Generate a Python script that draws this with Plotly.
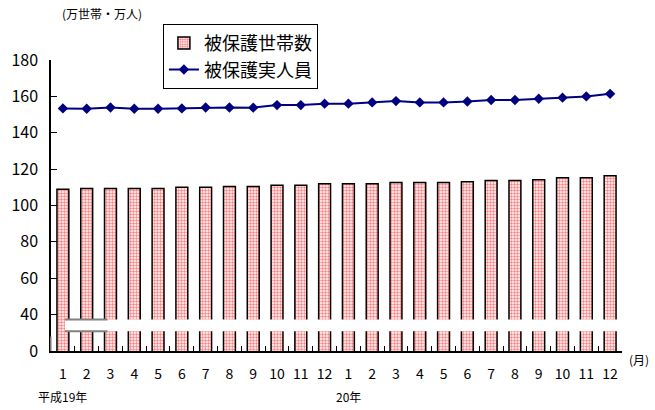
import plotly.graph_objects as go

months = ["1","2","3","4","5","6","7","8","9","10","11","12",
          "1","2","3","4","5","6","7","8","9","10","11","12"]
households = [108.9, 109.4, 109.4, 109.4, 109.4, 110.0, 110.0, 110.4, 110.4, 111.1, 111.1, 112.0,
              112.0, 112.0, 112.6, 112.6, 112.6, 113.1, 113.7, 113.7, 114.2, 115.3, 115.3, 116.4]
persons = [153.4, 153.2, 153.9, 153.2, 153.2, 153.4, 153.9, 153.9, 153.8, 155.2, 155.2, 156.0,
           156.0, 156.7, 157.4, 156.7, 156.7, 157.2, 158.0, 158.0, 158.7, 159.3, 160.0, 161.4]
y_ticks = [20, 40, 60, 80, 100, 120, 140, 160, 180]
y_tick_labels = ["0", "40", "60", "80", "100", "120", "140", "160", "180"]
year_labels = ["平成19年", "20年"]

FONT = "Noto Sans CJK JP"
x = list(range(len(months)))

fig = go.Figure()
fig.add_trace(go.Bar(
    x=x, y=households, name="被保護世帯数", width=0.5,
    marker=dict(color="white", line=dict(color="black", width=1.5),
                pattern=dict(shape=".", fgcolor="#ff0000", bgcolor="white", size=3, solidity=0.5)),
))
fig.add_trace(go.Scatter(
    x=x, y=persons, name="被保護実人員", mode="lines+markers",
    line=dict(color="#000080", width=2),
    marker=dict(symbol="diamond", size=8, color="#000080"),
))
# dummy trace for boundary tick marks
fig.add_trace(go.Scatter(x=[-0.5], y=[None], xaxis="x2", showlegend=False, hoverinfo="skip"))

fig.update_layout(
    width=655, height=410,
    margin=dict(l=51, r=33, t=60, b=59),
    plot_bgcolor="white", paper_bgcolor="white",
    font=dict(family=FONT, color="black", size=13),
    showlegend=True,
    legend=dict(x=0.196, y=1.124, xanchor="left", yanchor="top",
                bgcolor="white", bordercolor="black", borderwidth=1,
                font=dict(size=18, family=FONT), tracegroupgap=0,
                itemwidth=30),
    xaxis=dict(range=[-0.5, 23.5], tickmode="array", tickvals=x, ticktext=months,
               ticks="", showline=True, linecolor="black", linewidth=1.5,
               showgrid=False, zeroline=False, ticklabelstandoff=9,
               tickfont=dict(size=14, family=FONT)),
    xaxis2=dict(range=[-0.5, 23.5], overlaying="x", anchor="y", side="bottom",
                tickmode="array", tickvals=[i + 0.5 for i in range(24)],
                ticks="inside", ticklen=5, tickcolor="black", tickwidth=1,
                showticklabels=False, showgrid=False, zeroline=False, showline=False),
    yaxis=dict(range=[20, 180], tickmode="array", tickvals=y_ticks, ticktext=y_tick_labels,
               ticks="inside", ticklen=6, tickcolor="black", showline=True,
               linecolor="black", linewidth=1.5, showgrid=False, zeroline=False,
               tickfont=dict(size=16, family=FONT), ticklabelstandoff=8),
)

# axis break
fig.add_shape(type="rect", xref="paper", yref="y", x0=0.0245, x1=1.0, y0=30.9, y1=37.3,
              fillcolor="white", line=dict(width=0), layer="above")
for yy in (37.3, 30.9):
    fig.add_shape(type="line", xref="paper", yref="y", x0=0.0245, x1=0.099, y0=yy, y1=yy,
                  line=dict(color="#808080", width=2), layer="above")
fig.add_shape(type="line", xref="paper", yref="y", x0=0, x1=0, y0=20, y1=28,
              line=dict(color="#a0a0a0", width=1.5), layer="above")

fig.add_annotation(text="(万世帯・万人)", xref="paper", yref="paper", x=0.09, y=1.16,
                   xanchor="center", yanchor="middle", showarrow=False, font=dict(size=12))
fig.add_annotation(text="(月)", xref="paper", yref="paper", x=1.008, y=-0.03,
                   xanchor="left", yanchor="middle", showarrow=False, font=dict(size=12))
fig.add_annotation(text=year_labels[0], xref="x", yref="paper", x=0, y=-0.155,
                   xanchor="center", yanchor="middle", showarrow=False, font=dict(size=12))
fig.add_annotation(text=year_labels[1], xref="x", yref="paper", x=12, y=-0.155,
                   xanchor="center", yanchor="middle", showarrow=False, font=dict(size=12))

fig.write_html("out.html")
